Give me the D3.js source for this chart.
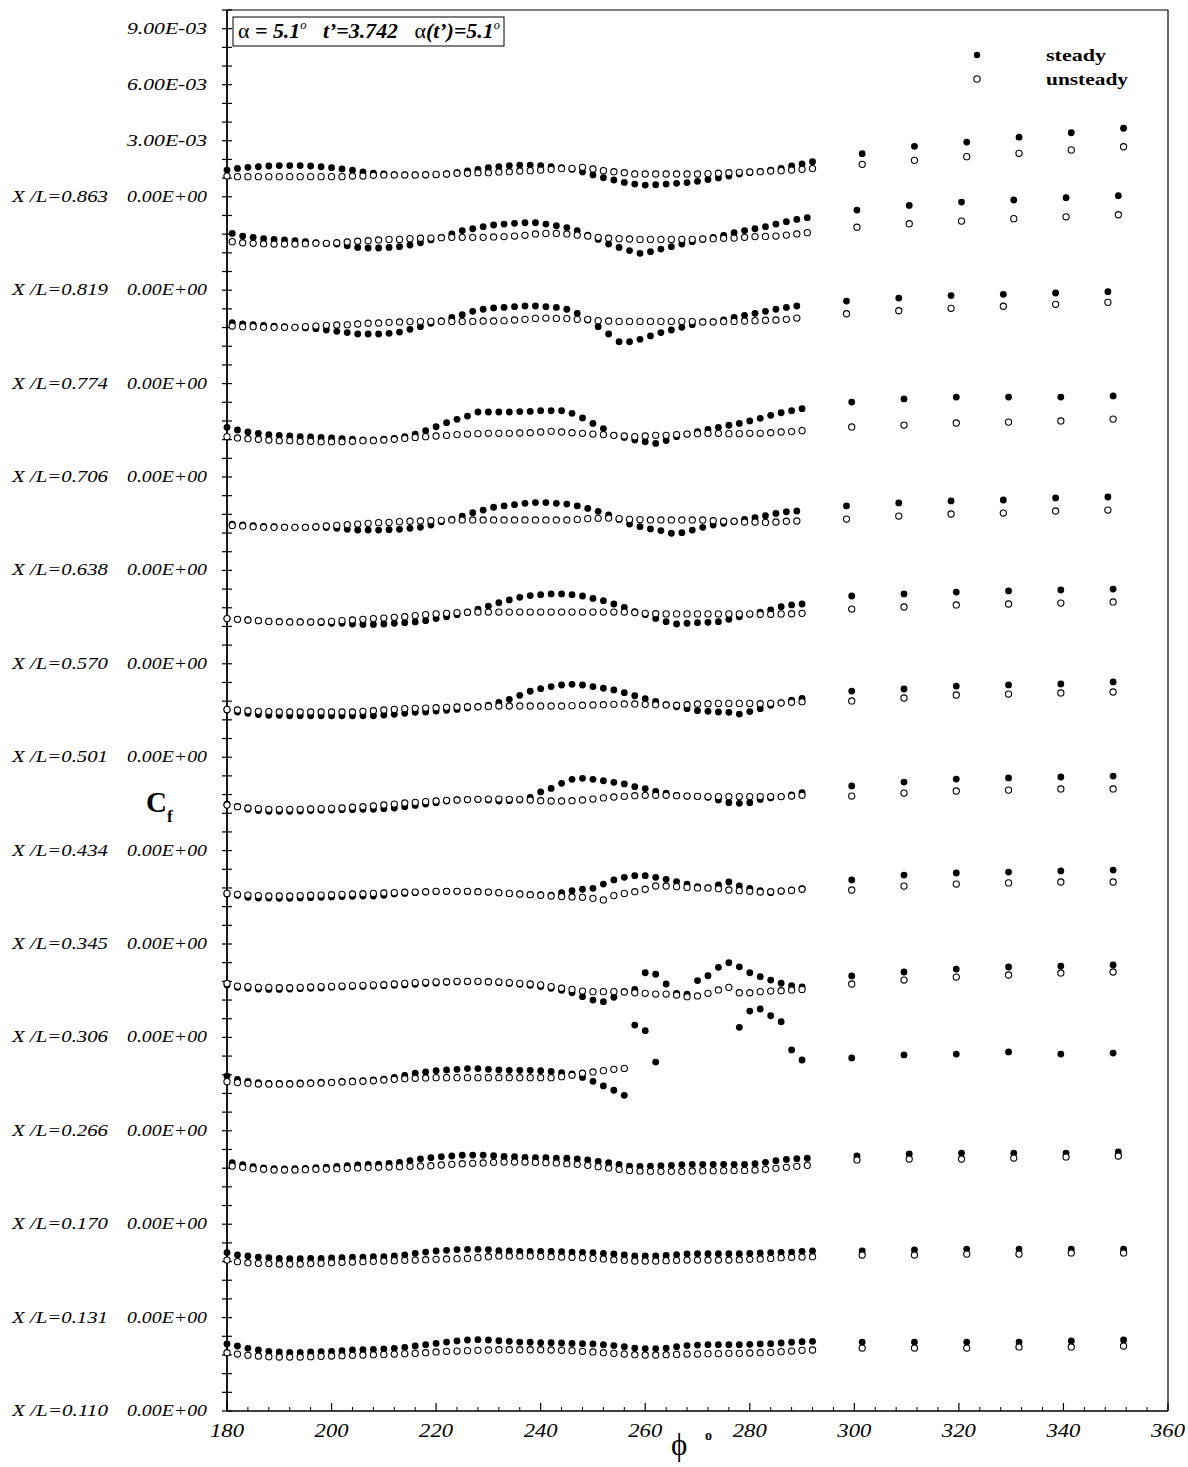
<!DOCTYPE html>
<html><head><meta charset="utf-8">
<script src="https://cdn.jsdelivr.net/npm/d3@7"></script>
<style>body{margin:0;background:#fff}</style></head>
<body><svg id="c" width="1188" height="1467"></svg>
<script>
// Cf values are in units of 1e-3, relative to each station's own zero line.
const stations = ["0.863","0.819","0.774","0.706","0.638","0.570","0.501","0.434","0.345","0.306","0.266","0.170","0.131","0.110"];
const phiGrid = [180,182,184,186,188,190,192,194,196,198,200,202,204,206,208,210,212,214,216,218,220,222,224,226,228,230,232,234,236,238,240,242,244,246,248,250,252,254,256,258,260,262,264,266,268,270,272,274,276,278,280,282,284,286,288,290,292];
const phiShift = [0,1,1,0,1,0,0,0,0,0,0,1,0,0];
const phiFar = [300,310,320,330,340,350];
const farShift = [1.5,0.5,-1.5,-0.5,-1.5,-0.5,-0.5,-0.5,-0.5,-0.5,-0.5,0.5,1.5,1.5];
const xTicks = [180,200,220,240,260,280,300,320,340,360];
const topTickLabels = [[3,"3.00E-03"],[6,"6.00E-03"],[9,"9.00E-03"]];

const steady_863 = [1.43,1.52,1.58,1.61,1.65,1.67,1.67,1.67,1.65,1.61,1.56,1.49,1.42,1.33,1.26,1.22,1.18,1.17,1.17,1.17,1.18,1.22,1.29,1.38,1.47,1.56,1.61,1.67,1.70,1.70,1.67,1.61,1.56,1.47,1.33,1.17,1.02,0.90,0.77,0.68,0.63,0.65,0.68,0.72,0.76,0.83,0.92,1.01,1.11,1.22,1.29,1.36,1.43,1.52,1.65,1.76,1.88];
const unsteady_863 = [1.11,1.08,1.08,1.08,1.08,1.08,1.08,1.08,1.08,1.08,1.08,1.08,1.11,1.11,1.15,1.17,1.17,1.17,1.17,1.18,1.20,1.22,1.26,1.26,1.29,1.29,1.33,1.345,1.38,1.40,1.43,1.47,1.51,1.52,1.58,1.49,1.40,1.345,1.29,1.22,1.22,1.22,1.22,1.22,1.22,1.22,1.24,1.26,1.29,1.31,1.33,1.345,1.38,1.40,1.43,1.47,1.51];
const steadyFar_863 = [2.31,2.70,2.93,3.19,3.43,3.67];
const unsteadyFar_863 = [1.74,1.95,2.15,2.33,2.51,2.68];

const steady_819 = [3.04,2.90,2.83,2.76,2.72,2.69,2.65,2.60,2.54,2.49,2.47,2.38,2.29,2.26,2.26,2.29,2.33,2.42,2.54,2.69,2.83,3.01,3.19,3.29,3.40,3.49,3.54,3.58,3.61,3.61,3.54,3.45,3.35,3.19,2.95,2.72,2.47,2.29,2.12,1.97,2.06,2.20,2.33,2.47,2.60,2.72,2.83,2.94,3.08,3.19,3.29,3.40,3.54,3.67,3.79,3.88];
const unsteady_819 = [2.60,2.54,2.51,2.49,2.47,2.47,2.47,2.49,2.51,2.51,2.54,2.58,2.62,2.65,2.69,2.72,2.72,2.76,2.78,2.79,2.81,2.83,2.83,2.83,2.83,2.85,2.87,2.90,2.94,3.01,3.04,3.04,3.01,2.95,2.90,2.83,2.78,2.76,2.74,2.72,2.72,2.72,2.72,2.72,2.72,2.74,2.76,2.78,2.79,2.83,2.87,2.88,2.90,2.95,3.01,3.08];
const steadyFar_819 = [4.29,4.54,4.72,4.83,4.95,5.06];
const unsteadyFar_819 = [3.37,3.56,3.70,3.83,3.93,4.04];

const steady_774 = [3.26,3.19,3.155,3.12,3.08,3.05,3.01,2.98,2.94,2.87,2.80,2.73,2.655,2.655,2.655,2.69,2.76,2.905,3.05,3.23,3.37,3.55,3.69,3.87,3.98,4.05,4.08,4.12,4.155,4.155,4.12,4.08,3.98,3.76,3.405,3.05,2.655,2.245,2.245,2.37,2.55,2.73,2.87,3.01,3.155,3.30,3.30,3.405,3.55,3.655,3.76,3.87,3.98,4.08,4.155];
const unsteady_774 = [3.08,3.05,3.05,3.01,3.01,3.01,3.01,3.05,3.08,3.12,3.14,3.155,3.19,3.23,3.245,3.28,3.30,3.32,3.32,3.33,3.33,3.33,3.33,3.33,3.35,3.35,3.37,3.405,3.44,3.49,3.51,3.49,3.48,3.44,3.44,3.37,3.35,3.33,3.33,3.33,3.33,3.33,3.33,3.33,3.32,3.30,3.30,3.32,3.33,3.35,3.37,3.39,3.405,3.44,3.51];
const steadyFar_774 = [4.42,4.58,4.71,4.78,4.85,4.92];
const unsteadyFar_774 = [3.74,3.90,4.03,4.14,4.245,4.35];

const steady_706 = [2.66,2.52,2.41,2.34,2.27,2.23,2.195,2.16,2.14,2.12,2.09,2.05,2.02,1.98,1.98,2.02,2.07,2.16,2.30,2.48,2.69,2.91,3.09,3.26,3.48,3.48,3.48,3.48,3.50,3.51,3.55,3.55,3.55,3.41,3.16,2.87,2.59,2.23,2.12,1.98,1.89,1.80,1.95,2.16,2.30,2.43,2.55,2.66,2.77,2.87,3.00,3.14,3.30,3.44,3.55,3.66];
const unsteady_706 = [2.16,2.09,2.05,2.02,1.98,1.945,1.945,1.91,1.91,1.89,1.89,1.89,1.91,1.945,1.945,1.98,2.02,2.07,2.12,2.16,2.195,2.23,2.27,2.30,2.32,2.34,2.34,2.34,2.355,2.37,2.41,2.445,2.41,2.37,2.34,2.30,2.27,2.23,2.195,2.16,2.195,2.23,2.23,2.27,2.30,2.32,2.34,2.34,2.32,2.32,2.34,2.34,2.37,2.41,2.43,2.48];
const steadyFar_706 = [4.01,4.18,4.28,4.28,4.28,4.34];
const unsteadyFar_706 = [2.68,2.78,2.89,2.94,3.00,3.10];

const steady_638 = [2.47,2.43,2.395,2.36,2.34,2.32,2.305,2.305,2.305,2.29,2.25,2.20,2.16,2.16,2.16,2.18,2.20,2.25,2.305,2.43,2.61,2.73,2.91,3.09,3.23,3.38,3.45,3.52,3.59,3.63,3.63,3.59,3.55,3.45,3.32,3.16,2.97,2.73,2.48,2.34,2.22,2.13,1.99,2.02,2.16,2.305,2.43,2.52,2.61,2.73,2.82,2.93,3.05,3.14,3.18];
const unsteady_638 = [2.41,2.38,2.34,2.305,2.305,2.305,2.305,2.305,2.34,2.38,2.41,2.45,2.48,2.52,2.555,2.57,2.61,2.63,2.645,2.66,2.68,2.70,2.70,2.70,2.70,2.70,2.70,2.70,2.70,2.70,2.70,2.70,2.70,2.73,2.77,2.79,2.80,2.77,2.73,2.72,2.70,2.70,2.70,2.70,2.70,2.70,2.66,2.63,2.63,2.59,2.59,2.57,2.59,2.63,2.645];
const steadyFar_638 = [3.45,3.61,3.72,3.77,3.88,3.93];
const unsteadyFar_638 = [2.75,2.91,3.02,3.07,3.18,3.23];

const steady_570 = [2.42,2.38,2.345,2.31,2.27,2.255,2.24,2.24,2.22,2.20,2.17,2.17,2.13,2.11,2.11,2.13,2.17,2.20,2.24,2.31,2.42,2.52,2.63,2.74,2.92,3.09,3.27,3.42,3.56,3.65,3.70,3.74,3.74,3.70,3.63,3.50,3.38,3.20,3.02,2.79,2.63,2.43,2.255,2.13,2.17,2.20,2.22,2.255,2.38,2.52,2.65,2.76,2.88,3.06,3.15,3.20];
const unsteady_570 = [2.42,2.38,2.345,2.31,2.27,2.255,2.24,2.24,2.24,2.255,2.27,2.31,2.345,2.38,2.42,2.45,2.49,2.52,2.58,2.63,2.67,2.70,2.74,2.76,2.77,2.77,2.77,2.77,2.77,2.77,2.77,2.77,2.77,2.77,2.77,2.77,2.77,2.77,2.77,2.74,2.70,2.68,2.67,2.67,2.67,2.67,2.67,2.67,2.67,2.67,2.67,2.65,2.65,2.67,2.68,2.70];
const steadyFar_570 = [3.63,3.74,3.84,3.90,3.95,4.00];
const unsteadyFar_570 = [2.93,3.04,3.15,3.20,3.25,3.31];

const steady_501 = [2.53,2.42,2.35,2.28,2.24,2.24,2.22,2.22,2.22,2.22,2.22,2.22,2.22,2.22,2.22,2.26,2.30,2.35,2.40,2.42,2.47,2.51,2.56,2.63,2.70,2.78,2.94,3.10,3.31,3.53,3.67,3.78,3.865,3.90,3.865,3.78,3.69,3.60,3.455,3.29,3.13,2.99,2.81,2.70,2.60,2.49,2.455,2.42,2.40,2.31,2.44,2.60,2.78,2.92,3.06,3.15];
const unsteady_501 = [2.56,2.53,2.49,2.455,2.44,2.42,2.42,2.42,2.42,2.42,2.42,2.42,2.42,2.455,2.49,2.53,2.56,2.60,2.615,2.63,2.65,2.67,2.69,2.70,2.70,2.72,2.74,2.74,2.74,2.74,2.74,2.74,2.74,2.76,2.78,2.795,2.81,2.83,2.85,2.85,2.83,2.81,2.795,2.78,2.81,2.85,2.865,2.88,2.88,2.88,2.88,2.865,2.88,2.90,2.94,2.97];
const steadyFar_501 = [3.54,3.65,3.81,3.87,3.92,4.03];
const unsteadyFar_501 = [3.01,3.17,3.33,3.38,3.44,3.49];

const steady_434 = [2.49,2.35,2.21,2.14,2.10,2.10,2.10,2.12,2.14,2.155,2.17,2.19,2.19,2.21,2.21,2.245,2.28,2.35,2.42,2.49,2.565,2.655,2.71,2.73,2.73,2.71,2.655,2.67,2.71,2.85,3.14,3.33,3.60,3.815,3.87,3.815,3.74,3.655,3.57,3.42,3.32,3.17,3.07,2.96,2.92,2.89,2.85,2.71,2.565,2.53,2.565,2.74,2.82,2.89,2.98,3.10];
const unsteady_434 = [2.44,2.35,2.28,2.245,2.21,2.21,2.21,2.21,2.23,2.245,2.26,2.28,2.32,2.35,2.39,2.44,2.49,2.55,2.58,2.62,2.655,2.69,2.71,2.73,2.745,2.76,2.76,2.745,2.745,2.71,2.67,2.655,2.655,2.67,2.71,2.76,2.82,2.87,2.905,2.94,2.96,2.96,2.96,2.94,2.92,2.905,2.89,2.89,2.89,2.89,2.89,2.89,2.89,2.89,2.92,2.96];
const steadyFar_434 = [3.46,3.67,3.83,3.89,3.94,3.99];
const unsteadyFar_434 = [2.92,3.08,3.19,3.24,3.30,3.30];

const steady_345 = [2.68,2.61,2.50,2.46,2.46,2.445,2.445,2.46,2.48,2.50,2.52,2.54,2.55,2.57,2.57,2.61,2.68,2.71,2.75,2.78,2.80,2.82,2.82,2.80,2.80,2.78,2.75,2.71,2.68,2.64,2.64,2.61,2.75,2.855,2.93,2.98,3.21,3.43,3.57,3.66,3.66,3.57,3.46,3.34,3.21,3.07,3.00,3.16,3.32,3.105,2.98,2.855,2.75,2.82,2.89,2.96];
const unsteady_345 = [2.71,2.66,2.62,2.59,2.57,2.57,2.57,2.59,2.61,2.62,2.64,2.66,2.68,2.69,2.71,2.73,2.75,2.77,2.78,2.80,2.82,2.82,2.82,2.82,2.80,2.78,2.75,2.71,2.68,2.64,2.61,2.57,2.54,2.52,2.50,2.445,2.36,2.59,2.71,2.80,2.93,3.105,3.105,3.07,3.03,3.00,3.00,2.96,2.89,2.855,2.82,2.78,2.80,2.84,2.87,2.93];
const steadyFar_345 = [3.43,3.69,3.80,3.85,3.91,3.96];
const unsteadyFar_345 = [2.89,3.10,3.21,3.27,3.32,3.32];

const steady_306 = [2.81,2.68,2.63,2.59,2.57,2.57,2.59,2.61,2.63,2.645,2.68,2.70,2.72,2.73,2.75,2.77,2.79,2.81,2.84,2.88,2.91,2.95,2.97,2.98,2.98,2.97,2.93,2.89,2.84,2.79,2.72,2.63,2.52,2.39,2.18,2.00,1.91,2.15,2.45,2.57,3.46,3.38,2.86,2.36,2.32,3.04,3.30,3.75,4.00,3.78,3.46,3.25,3.07,2.90,2.77,2.71];
const unsteady_306 = [2.89,2.75,2.72,2.68,2.68,2.66,2.66,2.68,2.70,2.72,2.73,2.75,2.77,2.79,2.81,2.82,2.86,2.89,2.93,2.95,2.97,2.98,3.00,3.00,3.00,2.98,2.97,2.93,2.89,2.86,2.81,2.72,2.63,2.57,2.48,2.45,2.45,2.45,2.43,2.39,2.36,2.32,2.32,2.27,2.18,2.22,2.36,2.54,2.68,2.39,2.39,2.45,2.48,2.50,2.54,2.57];
const steadyFar_306 = [3.29,3.50,3.66,3.77,3.82,3.88];
const unsteadyFar_306 = [2.86,3.07,3.23,3.34,3.45,3.50];

const steady_266 = [2.93,2.75,2.65,2.58,2.54,2.54,2.54,2.56,2.58,2.60,2.61,2.65,2.67,2.68,2.72,2.77,2.86,2.97,3.08,3.15,3.22,3.255,3.29,3.33,3.33,3.29,3.255,3.24,3.24,3.24,3.22,3.18,3.11,3.04,2.86,2.65,2.40,2.17,1.90,5.66,5.36,3.68,null,null,null,null,null,null,null,5.54,6.41,6.52,6.16,5.84,4.33,3.79];
const unsteady_266 = [2.63,2.58,2.54,2.505,2.505,2.505,2.505,2.52,2.54,2.56,2.58,2.61,2.63,2.65,2.68,2.72,2.755,2.79,2.81,2.83,2.845,2.845,2.845,2.845,2.845,2.845,2.845,2.845,2.845,2.845,2.845,2.845,2.90,2.97,3.08,3.15,3.22,3.29,3.34];
const steadyFar_266 = [3.90,4.06,4.11,4.22,4.11,4.16];
const unsteadyFar_266 = [];

const steady_170 = [3.29,3.19,3.08,3.01,2.97,2.955,2.97,2.99,3.03,3.06,3.10,3.13,3.17,3.205,3.22,3.26,3.31,3.40,3.49,3.56,3.615,3.65,3.69,3.70,3.70,3.67,3.63,3.615,3.58,3.56,3.56,3.54,3.53,3.49,3.44,3.365,3.29,3.205,3.11,3.10,3.11,3.13,3.15,3.19,3.205,3.205,3.205,3.205,3.205,3.205,3.24,3.31,3.40,3.47,3.51,3.53];
const unsteady_170 = [3.11,3.045,2.97,2.94,2.90,2.90,2.90,2.92,2.94,2.955,2.97,2.99,3.01,3.03,3.045,3.06,3.08,3.10,3.11,3.13,3.17,3.205,3.24,3.26,3.28,3.31,3.33,3.33,3.33,3.31,3.295,3.28,3.24,3.205,3.15,3.08,3.01,2.94,2.88,2.85,2.83,2.83,2.83,2.83,2.85,2.866,2.866,2.866,2.88,2.88,2.90,2.94,2.99,3.045,3.10,3.15];
const steadyFar_170 = [3.65,3.76,3.81,3.81,3.81,3.87];
const unsteadyFar_170 = [3.44,3.49,3.49,3.54,3.60,3.65];

const steady_131 = [3.48,3.35,3.30,3.24,3.21,3.17,3.155,3.155,3.17,3.17,3.19,3.21,3.23,3.24,3.26,3.26,3.30,3.35,3.44,3.51,3.565,3.60,3.64,3.655,3.655,3.64,3.58,3.565,3.55,3.55,3.55,3.55,3.53,3.51,3.494,3.48,3.44,3.405,3.35,3.30,3.30,3.30,3.33,3.37,3.405,3.42,3.42,3.42,3.42,3.42,3.44,3.46,3.48,3.494,3.51,3.55,3.565];
const unsteady_131 = [3.08,2.995,2.94,2.905,2.89,2.87,2.87,2.87,2.89,2.905,2.94,2.96,2.975,2.995,3.01,3.03,3.05,3.066,3.08,3.10,3.12,3.14,3.155,3.17,3.21,3.26,3.30,3.30,3.30,3.30,3.28,3.26,3.24,3.23,3.21,3.17,3.14,3.10,3.066,3.03,3.03,3.03,3.05,3.066,3.08,3.08,3.08,3.08,3.08,3.10,3.12,3.14,3.17,3.21,3.23,3.24,3.26];
const steadyFar_131 = [3.57,3.62,3.67,3.67,3.67,3.67];
const unsteadyFar_131 = [3.35,3.35,3.40,3.40,3.46,3.46];

const steady_110 = [3.59,3.48,3.355,3.27,3.195,3.16,3.14,3.14,3.16,3.18,3.195,3.23,3.27,3.285,3.30,3.32,3.355,3.41,3.48,3.55,3.62,3.69,3.75,3.80,3.82,3.80,3.76,3.73,3.69,3.68,3.66,3.66,3.64,3.62,3.605,3.59,3.55,3.50,3.44,3.37,3.34,3.34,3.37,3.44,3.50,3.53,3.55,3.55,3.55,3.55,3.57,3.59,3.605,3.64,3.68,3.71,3.73];
const unsteady_110 = [3.12,3.05,2.98,2.945,2.91,2.89,2.89,2.89,2.91,2.925,2.945,2.96,2.98,2.998,3.015,3.03,3.05,3.07,3.087,3.12,3.16,3.195,3.21,3.23,3.25,3.265,3.28,3.28,3.28,3.28,3.28,3.265,3.25,3.23,3.195,3.16,3.12,3.087,3.05,3.015,2.998,2.998,3.015,3.03,3.05,3.05,3.07,3.07,3.087,3.087,3.105,3.12,3.14,3.176,3.21,3.25,3.265];
const steadyFar_110 = [3.69,3.69,3.69,3.69,3.75,3.80];
const unsteadyFar_110 = [3.37,3.37,3.37,3.43,3.43,3.48];

const steadyRows = [steady_863,steady_819,steady_774,steady_706,steady_638,steady_570,steady_501,steady_434,steady_345,steady_306,steady_266,steady_170,steady_131,steady_110];
const unsteadyRows = [unsteady_863,unsteady_819,unsteady_774,unsteady_706,unsteady_638,unsteady_570,unsteady_501,unsteady_434,unsteady_345,unsteady_306,unsteady_266,unsteady_170,unsteady_131,unsteady_110];
const steadyFarRows = [steadyFar_863,steadyFar_819,steadyFar_774,steadyFar_706,steadyFar_638,steadyFar_570,steadyFar_501,steadyFar_434,steadyFar_345,steadyFar_306,steadyFar_266,steadyFar_170,steadyFar_131,steadyFar_110];
const unsteadyFarRows = [unsteadyFar_863,unsteadyFar_819,unsteadyFar_774,unsteadyFar_706,unsteadyFar_638,unsteadyFar_570,unsteadyFar_501,unsteadyFar_434,unsteadyFar_345,unsteadyFar_306,unsteadyFar_266,unsteadyFar_170,unsteadyFar_131,unsteadyFar_110];
const stationStep = 5; // 5e-3 between stacked zero lines

// ---------- drawing ----------
const svg = d3.select("#c");
const W = 1188, H = 1467;
const L = 227, R = 1168, T = 10, B = 1411;
const x = d3.scaleLinear().domain([180, 360]).range([L, R]);
const y = d3.scaleLinear().domain([0, 75]).range([B, T]);
const serif = "'Liberation Serif','Times New Roman',serif";

svg.append("rect").attr("width", W).attr("height", H).attr("fill", "#fff");

function label(g, px, py, str, o) {
  const t = g.append("text").attr("x", px).attr("y", py)
    .attr("font-family", serif).attr("font-size", o.size)
    .attr("font-style", o.style || "italic").attr("font-weight", o.weight || "normal")
    .attr("text-anchor", o.anchor || "start").attr("fill", "#000").text(str);
  if (o.width) t.attr("textLength", o.width).attr("lengthAdjust", "spacingAndGlyphs");
  return t;
}

// frame
const frame = svg.append("g").attr("stroke", "#000").attr("fill", "none");
frame.append("line").attr("x1", L).attr("x2", R).attr("y1", T).attr("y2", T).attr("stroke-width", 1.2);
frame.append("line").attr("x1", R).attr("x2", R).attr("y1", T).attr("y2", B).attr("stroke-width", 1.2);
frame.append("line").attr("x1", L).attr("x2", R).attr("y1", B).attr("y2", B).attr("stroke-width", 1.5);
frame.append("line").attr("x1", L).attr("x2", L).attr("y1", T).attr("y2", B).attr("stroke-width", 1.8);

// y ticks every 1e-3, crossing the axis
const yt = d3.range(0, 76, 1);
frame.selectAll(".yt").data(yt).join("line")
  .attr("x1", L - 5).attr("x2", L + 5).attr("y1", d => y(d)).attr("y2", d => y(d)).attr("stroke-width", 1.2);

// x ticks
const minor = d3.range(184, 360, 4).filter(v => v % 20 !== 0);
frame.selectAll(".xm").data(minor).join("line")
  .attr("x1", d => x(d)).attr("x2", d => x(d)).attr("y1", B).attr("y2", B - 4).attr("stroke-width", 1);
frame.selectAll(".xM").data(xTicks).join("line")
  .attr("x1", d => x(d)).attr("x2", d => x(d)).attr("y1", B).attr("y2", B - 8).attr("stroke-width", 1.2);

const tg = svg.append("g");
xTicks.forEach(v => label(tg, x(v), 1437, String(v), {size: 18, anchor: "middle", width: 34}));

// station labels
stations.forEach((s, k) => {
  const off = (stations.length - 1 - k) * stationStep;
  label(tg, 12, y(off) + 5, "X /L=" + s, {size: 16, width: 96});
  label(tg, 207, y(off) + 5, "0.00E+00", {size: 16, anchor: "end", width: 80});
});
topTickLabels.forEach(([v, s]) => label(tg, 207, y((stations.length - 1) * stationStep + v) + 5, s, {size: 16, anchor: "end", width: 80}));

// axis titles
label(tg, 146, 812, "C", {size: 29, style: "normal", weight: "bold"});
label(tg, 167, 822, "f", {size: 17, style: "normal", weight: "bold"});
label(tg, 671, 1455, "\u03d5", {size: 31, style: "normal"});
label(tg, 705, 1440, "o", {size: 14, style: "normal", weight: "bold"});

// title box
svg.append("rect").attr("x", 233).attr("y", 17).attr("width", 271).attr("height", 29)
  .attr("fill", "#fff").attr("stroke", "#000").attr("stroke-width", 1);
const tt = svg.append("text").attr("x", 238).attr("y", 38).attr("font-family", serif)
  .attr("font-size", 21).attr("textLength", 262).attr("lengthAdjust", "spacingAndGlyphs")
  .style("white-space", "pre");
tt.append("tspan").attr("font-style", "normal").text("\u03b1");
tt.append("tspan").attr("font-weight", "bold").attr("font-style", "italic").text(" = 5.1");
tt.append("tspan").attr("font-style", "italic").attr("font-size", 12).attr("dy", -9).text("o");
tt.append("tspan").attr("font-weight", "bold").attr("font-style", "italic").attr("dy", 9).text("   t\u2019=3.742   ");
tt.append("tspan").attr("font-style", "normal").text("\u03b1");
tt.append("tspan").attr("font-weight", "bold").attr("font-style", "italic").text("(t\u2019)=5.1");
tt.append("tspan").attr("font-style", "italic").attr("font-size", 12).attr("dy", -9).text("o");

// legend
const lg = svg.append("g");
lg.append("circle").attr("cx", 977).attr("cy", 55).attr("r", 3.2).attr("fill", "#000");
lg.append("circle").attr("cx", 977).attr("cy", 79).attr("r", 3.2).attr("fill", "#fff").attr("stroke", "#000").attr("stroke-width", 1.1);
label(lg, 1046, 61, "steady", {size: 17, style: "normal", weight: "bold", width: 60});
label(lg, 1046, 85, "unsteady", {size: 17, style: "normal", weight: "bold", width: 82});

// data
const pts = svg.append("g");
const r = 3.4;
stations.forEach((s, k) => {
  const off = (stations.length - 1 - k) * stationStep;
  const sd = steadyRows[k].map((v, i) => ({p: phiGrid[i] + phiShift[k], v})).filter(d => d.v !== null);
  const ud = unsteadyRows[k].map((v, i) => ({p: phiGrid[i] + phiShift[k], v})).filter(d => d.v !== null);
  const sf = steadyFarRows[k].map((v, i) => ({p: phiFar[i] + farShift[k], v}));
  const uf = unsteadyFarRows[k].map((v, i) => ({p: phiFar[i] + farShift[k], v}));
  const g = pts.append("g");
  g.selectAll(".s").data(sd.concat(sf)).join("circle")
    .attr("cx", d => x(d.p)).attr("cy", d => y(off + d.v)).attr("r", r).attr("fill", "#000");
  g.selectAll(".u").data(ud.concat(uf)).join("circle")
    .attr("cx", d => x(d.p)).attr("cy", d => y(off + d.v)).attr("r", r - 0.3)
    .attr("fill", "#fff").attr("stroke", "#000").attr("stroke-width", 1.1);
});
</script></body></html>
